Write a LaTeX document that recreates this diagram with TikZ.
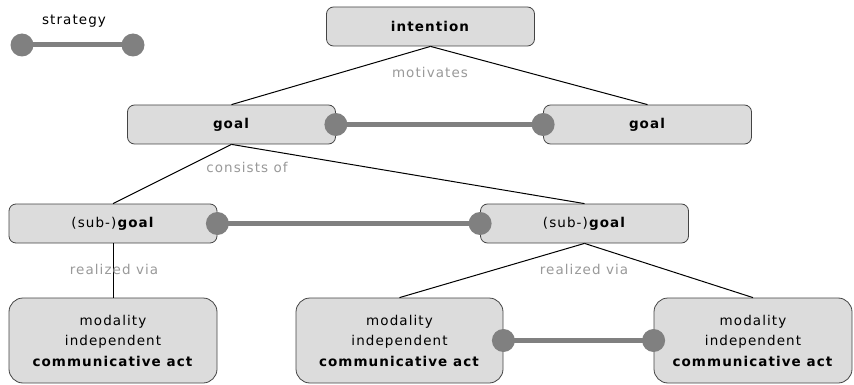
\documentclass[tikz,border=0pt]{standalone}
\usepackage{fontspec}
\setmainfont{DejaVu Sans}
\newfontfamily\widefont[LetterSpace=8]{DejaVu Sans}
\usepackage{tikz}
\usetikzlibrary{positioning}

\definecolor{boxfill}{HTML}{DCDCDC}
\definecolor{boxline}{HTML}{444444}
\definecolor{stratgray}{HTML}{808080}
\definecolor{labgray}{HTML}{999999}

\begin{document}
\begin{tikzpicture}[x=1pt, y=-1pt, line width=1pt,
    box/.style={draw=boxline, fill=boxfill, line width=0.8pt, rounded corners=7pt, minimum width=208pt, minimum height=39pt, font=\widefont\fontsize{13.5}{15}\selectfont},
    act/.style={box, rounded corners=14pt, minimum height=85pt, align=center, font=\widefont\fontsize{13.5}{20.5}\selectfont},
    lab/.style={text=labgray, font=\widefont\fontsize{13.5}{15}\selectfont},
    strat/.style={draw=stratgray, line width=5pt},
    dot/.style={fill=stratgray}]
    \useasboundingbox (0,0) rectangle (854,385);

    \node[box] (int) at (430.5,26.5) {\textbf{intention}};
    \node[box] (g1) at (231.5,124.5) {\textbf{goal}};
    \node[box] (g2) at (647.5,124.5) {\textbf{goal}};
    \node[box] (sg1) at (113,223.5) {(sub-)\textbf{goal}};
    \node[box] (sg2) at (584.5,223.5) {(sub-)\textbf{goal}};
    \node[act] (a1) at (113,340.5) {modality\\independent\\\textbf{communicative act}};
    \node[act, minimum width=207pt] (a2) at (399.5,340.5) {modality\\independent\\\textbf{communicative act}};
    \node[act, minimum width=198pt] (a3) at (753,340.5) {modality\\independent\\\textbf{communicative act}};

    % hierarchy
    \draw (int.south) -- (g1.north);
    \draw (int.south) -- (g2.north);
    \draw (g1.south) -- (sg1.north);
    \draw (g1.south) -- (sg2.north);
    \draw (sg1.south) -- (a1.north);
    \draw (sg2.south) -- (a2.north);
    \draw (sg2.south) -- (a3.north);

    \node[lab] (mot) at (430,72) {motivates};
    \node[lab] (cons) at (247,167) {consists of};
    \node[lab] (rv1) at (114,269) {realized via};
    \node[lab] (rv2) at (584,269) {realized via};

    % strategies
    \draw[strat] (g1.east) -- (g2.west);
    \draw[strat] (sg1.east) -- (sg2.west);
    \draw[strat] (a2.east) -- (a3.west);
    \foreach \p in {g1.east, g2.west, sg1.east, sg2.west, a2.east, a3.west}
        \fill[dot] (\p) circle (11.5pt);

    % legend
    \node[font=\widefont\fontsize{13.5}{15}\selectfont] (leg) at (74,21) {strategy};
    \coordinate (s1) at (22,45);
    \coordinate (s2) at (133,45);
    \draw[strat] (s1) -- (s2);
    \fill[dot] (s1) circle (11.5pt);
    \fill[dot] (s2) circle (11.5pt);
\end{tikzpicture}
\end{document}
